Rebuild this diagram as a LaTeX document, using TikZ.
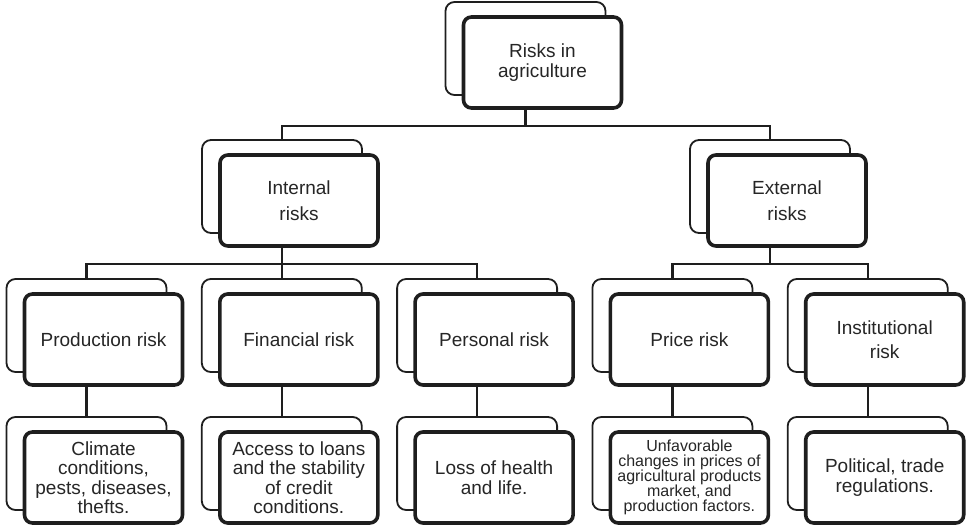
\documentclass[tikz,border=0pt]{standalone}
\usepackage{fontspec}
\setmainfont{Liberation Sans}
\definecolor{ink}{HTML}{1E1E1E}
\definecolor{txt}{HTML}{262626}
\tikzset{
  backbox/.style={draw=ink, fill=white, line width=1.8pt, rounded corners=9pt,
    minimum width=160pt, minimum height=93pt, inner sep=0pt, outer sep=0pt,
    anchor=north west},
  frontbox/.style={draw=ink, fill=white, line width=3.6pt, rounded corners=8pt,
    minimum width=158pt, minimum height=91pt, inner sep=2pt, outer sep=0pt,
    anchor=north west, align=center, text=txt},
  lvlzero/.style={font=\fontsize{19}{20}\selectfont},
  lvlone/.style={font=\fontsize{19}{26}\selectfont},
  lvltwo/.style={font=\fontsize{19}{24}\selectfont},
  lvlthree/.style={font=\fontsize{19}{19.5}\selectfont},
  lvlsmall/.style={font=\fontsize{16}{15}\selectfont},
  wire/.style={draw=ink, line width=2.2pt},
}
\begin{document}
\begin{tikzpicture}[x=1pt,y=-1pt]
\useasboundingbox (0,0) rectangle (970,527);

% root
\node[backbox]  (topB) at (445.5,2) {};
\node[frontbox,lvlzero] (topF) at (463.5,17) {Risks in\\agriculture};

% internal / external
\node[backbox]  (intB) at (202,140) {};
\node[frontbox,lvlone] (intF) at (220,155) {Internal\\risks};
\node[backbox]  (extB) at (690,140) {};
\node[frontbox,lvlone] (extF) at (708,155) {External\\risks};

% risk types
\node[backbox]  (prodB) at (6.5,279) {};
\node[frontbox,lvltwo] (prodF) at (24.5,294) {Production risk};
\node[backbox]  (finB) at (201.8,279) {};
\node[frontbox,lvltwo] (finF) at (219.8,294) {Financial risk};
\node[backbox]  (persB) at (397.1,279) {};
\node[frontbox,lvltwo] (persF) at (415.1,294) {Personal risk};
\node[backbox]  (priceB) at (592.4,279) {};
\node[frontbox,lvltwo] (priceF) at (610.4,294) {Price risk};
\node[backbox]  (instB) at (787.7,279) {};
\node[frontbox,lvltwo] (instF) at (805.7,294) {Institutional\\risk};

% risk sources
\node[backbox]  (climB) at (6.5,417) {};
\node[frontbox,lvlthree] (climF) at (24.5,432) {Climate\\conditions,\\pests, diseases,\\thefts.};
\node[backbox]  (loanB) at (201.8,417) {};
\node[frontbox,lvlthree] (loanF) at (219.8,432) {Access to loans\\and the stability\\of credit\\conditions.};
\node[backbox]  (lifeB) at (397.1,417) {};
\node[frontbox,lvlthree] (lifeF) at (415.1,432) {Loss of health\\and life.};
\node[backbox]  (mktB) at (592.4,417) {};
\node[frontbox,lvlsmall] (mktF) at (610.4,432) {Unfavorable\\changes in prices of\\agricultural products\\market, and\\production factors.};
\node[backbox]  (regB) at (787.7,417) {};
\node[frontbox,lvlthree] (regF) at (805.7,432) {Political, trade\\regulations.};

% bus lines
\coordinate (busA) at (0,126);
\coordinate (busB) at (0,264);

% root to internal / external
\draw[wire] (topB.south |- topF.south) -- (topB.south |- busA);
\draw[wire] (intB.north) -- (intB.north |- busA) -- (extB.north |- busA) -- (extB.north);

% internal to its risk types
\draw[wire] (intB.south |- intF.south) -- (intB.south |- busB);
\draw[wire] (prodB.north) -- (prodB.north |- busB) -- (persB.north |- busB) -- (persB.north);
\draw[wire] (finB.north |- busB) -- (finB.north);

% external to its risk types
\draw[wire] (extB.south |- extF.south) -- (extB.south |- busB);
\draw[wire] (priceB.north) -- (priceB.north |- busB) -- (instB.north |- busB) -- (instB.north);

% risk types to sources
\draw[wire] (prodB.south |- prodF.south) -- (climB.north);
\draw[wire] (finB.south |- finF.south) -- (loanB.north);
\draw[wire] (persB.south |- persF.south) -- (lifeB.north);
\draw[wire] (priceB.south |- priceF.south) -- (mktB.north);
\draw[wire] (instB.south |- instF.south) -- (regB.north);
\end{tikzpicture}
\end{document}
